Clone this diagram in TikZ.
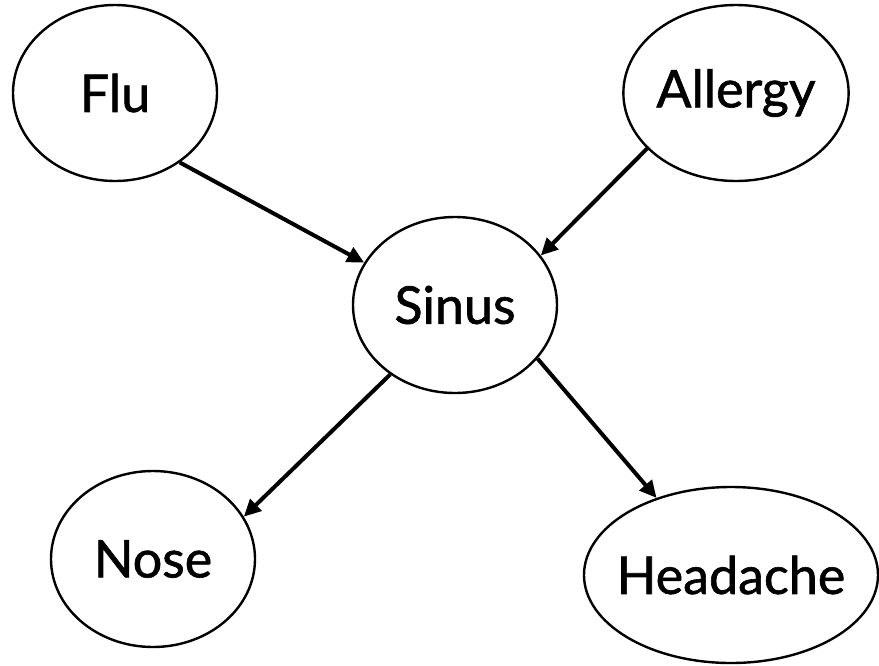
\documentclass[tikz,border=0pt]{standalone}
\usepackage{fontspec}
\newfontfamily\lbl[FakeBold=1.2]{Lato}
\usetikzlibrary{shapes.geometric,arrows.meta}
\begin{document}
\begin{tikzpicture}[x=1pt,y=-1pt,
  var/.style={draw=black, line width=2.4pt, shape=ellipse, inner sep=0pt,
    minimum width=204pt, minimum height=176pt, font=\lbl\fontsize{52}{62}\selectfont},
  edge/.style={line width=4pt, -{Triangle[length=17pt,width=16pt]}}]
  \useasboundingbox (0,0) rectangle (879,665);
  \node[var] (flu) at (115,93) {Flu};
  \node[var, minimum width=222pt] (allergy) at (736,93) {Allergy};
  \node[var] (sinus) at (455,305) {Sinus};
  \node[var] (nose) at (153,559) {Nose};
  \node[var, minimum width=294pt, inner xsep=-12pt] (headache) at (731,575) {Headache};
  \draw[edge] (flu.-47) -- (sinus.155.5);
  \draw[edge] (allergy.212.6) -- (sinus.30.5);
  \draw[edge] (sinus.227) -- (nose.25);
  \draw[edge] (sinus.-33.7) -- (headache.134.6);
\end{tikzpicture}
\end{document}
